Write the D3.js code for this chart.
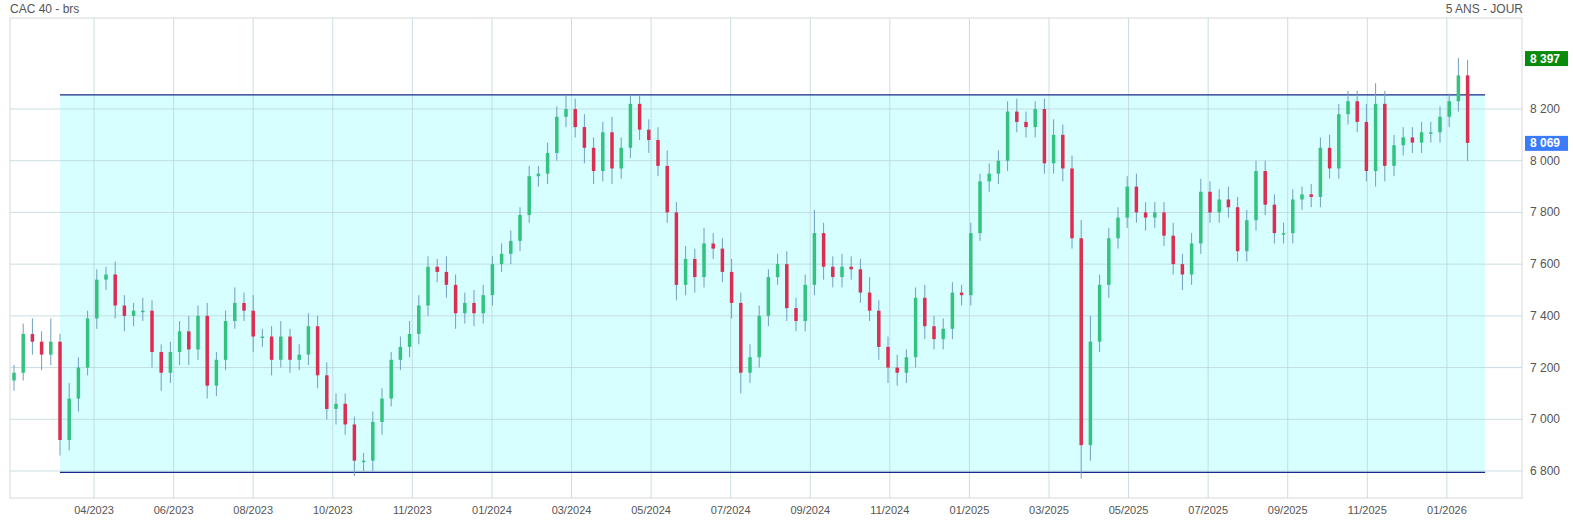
<!DOCTYPE html>
<html><head><meta charset="utf-8">
<script src="https://cdn.jsdelivr.net/npm/d3@7/dist/d3.min.js"></script>
<style>body{margin:0;background:#fff;font-family:"Liberation Sans",Arial,sans-serif}</style>
</head><body><svg id="c" width="1573" height="522"></svg>
<script>
const closes=[7180,7330,7300,7250,7300,6920,7080,7200,7390,7540,7560,7440,7400,7420,7420,7260,7180,7260,7340,7270,
7400,7130,7230,7380,7450,7420,7320,7320,7230,7320,7230,7250,7360,7170,7040,7060,6980,6840,6840,6990,
7080,7230,7280,7330,7440,7590,7570,7520,7410,7450,7410,7480,7600,7640,7690,7790,7940,7950,8030,8170,
8200,8130,8050,7960,8110,7970,8050,8220,8120,8080,7980,7800,7520,7620,7550,7680,7660,7570,7450,7180,
7240,7400,7550,7600,7430,7380,7520,7720,7590,7550,7590,7580,7490,7420,7280,7200,7180,7240,7470,7360,
7310,7350,7490,7480,7720,7920,7950,8000,8190,8150,8130,8200,7990,8100,7970,7700,6900,7300,7520,7700,
7780,7900,7800,7780,7800,7710,7600,7560,7680,7880,7800,7850,7820,7650,7770,7960,7830,7720,7720,7850,
7870,7860,8050,7970,8180,8230,8150,7960,8220,7980,8060,8090,8070,8110,8110,8170,8230,8330,8069];
const firstOpen=7150;
const wickUp=[30,40,60,40,90,30,60,40,30,40,30,50,40,30,50,40,30,40,40,60,40,50,30,40,60,40,60,30,40,60,30,40,50,40,50,40,40,30,30,40,
40,30,40,50,40,40,30,60,40,40,50,40,30,40,40,30,40,30,40,40,50,40,50,40,40,60,40,30,30,40,50,60,40,50,40,60,40,40,50,40,
50,40,30,40,50,40,40,90,40,40,50,40,40,60,40,40,50,30,40,50,40,40,40,30,40,30,40,40,40,50,40,30,40,60,40,50,70,100,40,40,
40,40,50,40,40,40,50,40,40,50,40,40,50,40,40,40,40,40,40,40,30,40,40,50,40,40,40,70,80,50,40,40,40,40,40,40,30,67,60];
const wickDown=[40,30,50,60,40,60,40,50,30,40,40,50,60,40,40,60,70,40,50,60,40,50,40,40,30,40,60,40,60,30,50,40,40,50,40,60,40,60,40,40,
50,30,40,40,40,40,40,50,60,40,50,40,40,30,40,40,30,40,40,30,40,40,60,50,40,60,40,40,40,50,40,40,60,40,60,40,40,40,60,80,
40,40,40,30,50,40,40,40,50,40,40,40,40,40,50,60,50,40,40,50,40,40,40,40,40,30,40,40,40,40,40,40,40,40,50,40,130,60,40,50,
40,40,40,50,40,40,40,60,40,40,40,40,40,40,40,40,40,40,40,40,40,40,40,40,40,40,40,40,60,60,40,40,40,40,40,40,40,40,70];
const rangeTop=8255, rangeBottom=6795, rangeStart=5, rangeEnd=159.9;
const yTicks=[6800,7000,7200,7400,7600,7800,8000,8200];
const xTickLabels=["04/2023","06/2023","08/2023","10/2023","11/2023","01/2024","03/2024","05/2024","07/2024","09/2024","11/2024","01/2025","03/2025","05/2025","07/2025","09/2025","11/2025","01/2026"];
const xTickIdx=[8.7,17.35,26,34.65,43.3,51.95,60.6,69.25,77.9,86.55,95.2,103.85,112.5,121.15,129.8,138.45,147.1,155.75];
const lastHigh=8397, lastClose=8069;

const svg=d3.select("#c");
const L=10,R=1522,T=18,B=498;
const x=d3.scaleLinear().domain([0,1]).range([14,23.2]);
const y=d3.scaleLinear().domain([6800,8200]).range([471,109]);
const fmt=v=>d3.format(",")(v).replace(/,/g," ");
const data=closes.map((c,i)=>{const o=i?closes[i-1]:firstOpen;return{i,o,c,h:Math.max(o,c)+wickUp[i],l:Math.min(o,c)-wickDown[i]};});
data[data.length-2].h=lastHigh;

svg.append("rect").attr("x",L).attr("y",T).attr("width",R-L).attr("height",B-T).attr("fill","#fff").attr("stroke","#d8d8d8");
svg.append("rect").attr("x",x(rangeStart)).attr("y",y(rangeTop)).attr("width",x(rangeEnd)-x(rangeStart)).attr("height",y(rangeBottom)-y(rangeTop)).attr("fill","#d7ffff");
const g=svg.append("g");
g.selectAll(".gy").data(yTicks).join("line").attr("x1",L).attr("x2",R).attr("y1",d=>y(d)).attr("y2",d=>y(d)).attr("stroke","#bcd6da").attr("stroke-opacity",0.8);
g.selectAll(".gx").data(xTickIdx).join("line").attr("x1",d=>x(d)).attr("x2",d=>x(d)).attr("y1",T).attr("y2",B).attr("stroke","#bcd6da").attr("stroke-opacity",0.8);
[rangeTop,rangeBottom].forEach(v=>svg.append("line").attr("x1",x(rangeStart)).attr("x2",x(rangeEnd)).attr("y1",y(v)).attr("y2",y(v)).attr("stroke","#1a2a8a").attr("stroke-width",1.3));

const cg=svg.append("g");
cg.selectAll("line.w").data(data).join("line").attr("x1",d=>x(d.i)).attr("x2",d=>x(d.i)).attr("y1",d=>y(d.h)).attr("y2",d=>y(d.l)).attr("stroke","#6f9fbf");
cg.selectAll("rect.b").data(data).join("rect").attr("x",d=>x(d.i)-1.75).attr("width",3.5)
 .attr("y",d=>y(Math.max(d.o,d.c))).attr("height",d=>Math.max(1.5,Math.abs(y(d.o)-y(d.c))))
 .attr("fill",d=>d.c>=d.o?"#33c27f":"#dc2d52");

svg.selectAll("text.yl").data(yTicks).join("text").attr("x",1530).attr("y",d=>y(d)+4).text(fmt).attr("font-size",12).attr("fill","#555");
svg.selectAll("text.xl").data(xTickIdx).join("text").attr("x",d=>x(d)).attr("y",514).attr("text-anchor","middle").text((d,i)=>xTickLabels[i]).attr("font-size",11).attr("fill","#555");

function tag(v,col){svg.append("rect").attr("x",1525).attr("y",y(v)-7).attr("width",43).attr("height",15).attr("fill",col);
 svg.append("text").attr("x",1530).attr("y",y(v)+4.5).text(fmt(v)).attr("font-size",12).attr("font-weight","bold").attr("fill","#fff");}
tag(lastHigh,"#0a8a0a");tag(lastClose,"#3b7cff");
svg.append("text").attr("x",10).attr("y",13).text("CAC 40 - brs").attr("font-size",12).attr("fill","#555");
svg.append("text").attr("x",1523).attr("y",13).attr("text-anchor","end").text("5 ANS - JOUR").attr("font-size",12).attr("fill","#555");
</script></body></html>
